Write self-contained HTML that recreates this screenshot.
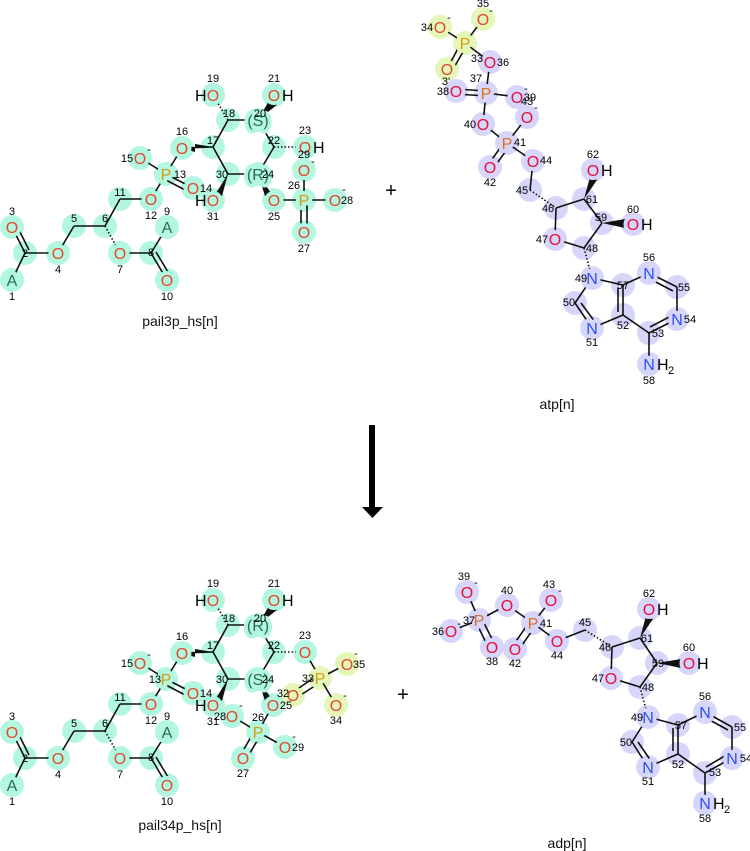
<!DOCTYPE html>
<html><head><meta charset="utf-8"><style>
html,body{margin:0;padding:0;background:#fff;}
svg{display:block;font-family:"Liberation Sans","DejaVu Sans",sans-serif;}
.t circle{fill:#b4f7e0}
.v circle{fill:#d6d6fa}
circle.y{fill:#e4f7b8}
line{stroke:#111;stroke-width:1.6}
.a{font-size:16px;text-anchor:middle}
.a text{paint-order:stroke;stroke-width:8px;stroke-linejoin:round}
.ta text{stroke:#b4f7e0}
.va text{stroke:#d6d6fa}
.ya text{stroke:#e4f7b8}
.O{fill:#e04a30}.Or{fill:#e8103c}.N{fill:#3050f0}.P{fill:#d89a10}.Po{fill:#e07020}.C{fill:#2a6a5a}
.n{font-size:11px;fill:#000;text-anchor:middle}
.h{font-size:16px;fill:#000}
.lbl{font-size:14px;fill:#111;text-anchor:middle}
</style></head><body>
<svg width="750" height="851" viewBox="0 0 750 851" xmlns="http://www.w3.org/2000/svg">

<!-- ============ TOP pail3p ============ -->
<g class="t">
<circle cx="12" cy="280" r="12"/><circle cx="25" cy="253" r="12"/><circle cx="12" cy="227" r="12"/><circle cx="58" cy="253" r="12"/><circle cx="74" cy="226" r="12"/><circle cx="105" cy="226" r="12"/><circle cx="120" cy="253" r="12"/><circle cx="151" cy="253" r="12"/><circle cx="167" cy="227" r="12"/><circle cx="167" cy="280" r="12"/><circle cx="120" cy="199" r="12"/><circle cx="151" cy="199" r="12"/><circle cx="166" cy="174" r="12"/><circle cx="193" cy="188" r="12"/><circle cx="140" cy="158" r="12"/><circle cx="182" cy="148" r="12"/><circle cx="213" cy="147" r="12"/><circle cx="228" cy="120" r="12"/><circle cx="213" cy="95" r="12"/><circle cx="258" cy="120" r="12"/><circle cx="274" cy="95" r="12"/><circle cx="274" cy="147" r="12"/><circle cx="305" cy="147" r="12"/><circle cx="258" cy="174" r="12"/><circle cx="274" cy="200" r="12"/><circle cx="304" cy="200" r="12"/><circle cx="304" cy="232" r="12"/><circle cx="335" cy="200" r="12"/><circle cx="304" cy="170" r="12"/><circle cx="228" cy="174" r="12"/><circle cx="213" cy="200" r="12"/>
</g>
<g>
<line x1="12" y1="280" x2="25" y2="253"/><line x1="12" y1="227" x2="25" y2="253"/><line x1="16" y1="224" x2="29" y2="250"/><line x1="25" y1="253" x2="58" y2="253"/><line x1="58" y1="253" x2="74" y2="226"/><line x1="74" y1="226" x2="105" y2="226"/><line x1="105" y1="226" x2="120" y2="199"/><line x1="120" y1="199" x2="151" y2="199"/><line x1="151" y1="199" x2="166" y2="174"/><line x1="120" y1="253" x2="151" y2="253"/><line x1="151" y1="253" x2="167" y2="227"/><line x1="151" y1="253" x2="167" y2="280"/><line x1="156" y1="252" x2="171" y2="277"/>
<line x1="105" y1="226" x2="120" y2="253" stroke-dasharray="1.5 2" stroke-width="5"/>
<line x1="166" y1="174" x2="140" y2="158"/><line x1="166" y1="174" x2="193" y2="188"/><line x1="164" y1="179" x2="191" y2="193"/><line x1="166" y1="174" x2="182" y2="148"/>
<polygon points="182,148 213,147 195,144 195,152" fill="#111"/><line x1="182" y1="148" x2="213" y2="147"/>
<line x1="213" y1="147" x2="228" y2="120"/><line x1="228" y1="120" x2="258" y2="120"/><line x1="258" y1="120" x2="274" y2="147"/><line x1="274" y1="147" x2="258" y2="174"/><line x1="258" y1="174" x2="228" y2="174"/><line x1="228" y1="174" x2="213" y2="147"/>
<line x1="228" y1="120" x2="213" y2="95" stroke-dasharray="1.5 2" stroke-width="5"/>
<polygon points="258,120 270,99 278,104" fill="#111"/>
<line x1="274" y1="147" x2="302" y2="147" stroke-dasharray="1.5 2" stroke-width="6"/>
<polygon points="258,174 271,193 265,196" fill="#111"/>
<polygon points="228,174 216,193 222,196" fill="#111"/>
<line x1="274" y1="200" x2="304" y2="200"/><line x1="304" y1="200" x2="335" y2="200"/><line x1="304" y1="200" x2="304" y2="170"/><line x1="301" y1="200" x2="301" y2="232"/><line x1="307" y1="200" x2="307" y2="232"/>
</g>
<g class="a ta">
<text x="12" y="286" class="C">A</text><text x="12" y="233" class="O">O</text><text x="58" y="259" class="O">O</text><text x="120" y="259" class="O">O</text><text x="167" y="233" class="C">A</text><text x="167" y="286" class="O">O</text><text x="151" y="205" class="O">O</text><text x="166" y="180" class="P">P</text><text x="193" y="194" class="O">O</text><text x="140" y="164" class="O">O</text><text x="182" y="154" class="O">O</text><text x="213" y="101" class="O">O</text><text x="258" y="126" class="C">(S)</text><text x="274" y="101" class="O">O</text><text x="305" y="153" class="O">O</text><text x="258" y="180" class="C">(R)</text><text x="274" y="206" class="O">O</text><text x="304" y="206" class="P">P</text><text x="304" y="238" class="O">O</text><text x="335" y="206" class="O">O</text><text x="304" y="176" class="O">O</text><text x="213" y="206" class="O">O</text>
</g>
<g class="h"><text x="195" y="101">H</text><text x="282" y="101">H</text><text x="313" y="153">H</text><text x="195" y="206">H</text></g>
<g class="n">
<text x="12" y="300">1</text><text x="25" y="257">2</text><text x="12" y="215">3</text><text x="58" y="273">4</text><text x="74" y="222">5</text><text x="105" y="222">6</text><text x="120" y="273">7</text><text x="151" y="256">8</text><text x="167" y="215">9</text><text x="167" y="300">10</text><text x="120" y="196">11</text><text x="151" y="219">12</text><text x="180" y="178">13</text><text x="206" y="192">14</text><text x="127" y="162">15</text><text x="182" y="135">16</text><text x="213" y="144">17</text><text x="229" y="117">18</text><text x="213" y="82">19</text><text x="260" y="117">20</text><text x="274" y="82">21</text><text x="274" y="144">22</text><text x="305" y="134">23</text><text x="268" y="178">24</text><text x="274" y="220">25</text><text x="294" y="189">26</text><text x="304" y="252">27</text><text x="347" y="204">28</text><text x="304" y="158">29</text><text x="222" y="178">30</text><text x="213" y="220">31</text>
<text x="149" y="153">-</text><text x="313" y="165">-</text><text x="344" y="193">-</text>
</g>
<text x="180" y="326" class="lbl">pail3p_hs[n]</text>

<!-- ============ TOP atp ============ -->
<circle class="y" cx="440" cy="27" r="12"/><circle class="y" cx="483" cy="19" r="12"/><circle class="y" cx="465" cy="43" r="12"/><circle class="y" cx="447" cy="69" r="12"/>
<g class="v">
<circle cx="490" cy="62" r="12"/><circle cx="486" cy="93" r="12"/><circle cx="456" cy="91" r="12"/><circle cx="517" cy="97" r="12"/><circle cx="527" cy="117" r="12"/><circle cx="483" cy="124" r="12"/><circle cx="507" cy="143" r="12"/><circle cx="490" cy="167" r="12"/><circle cx="533" cy="161" r="12"/><circle cx="530" cy="190" r="12"/><circle cx="556" cy="208" r="12"/><circle cx="555" cy="239" r="12"/><circle cx="584" cy="248" r="12"/><circle cx="602" cy="223" r="12"/><circle cx="633" cy="224" r="12"/><circle cx="584" cy="199" r="12"/><circle cx="593" cy="170" r="12"/><circle cx="592" cy="278" r="12"/><circle cx="575" cy="303" r="12"/><circle cx="592" cy="328" r="12"/><circle cx="623" cy="315" r="12"/><circle cx="623" cy="285" r="12"/><circle cx="649" cy="273" r="12"/><circle cx="677" cy="287" r="12"/><circle cx="677" cy="319" r="12"/><circle cx="649" cy="333" r="12"/><circle cx="649" cy="364" r="12"/>
</g>
<g>
<line x1="440" y1="27" x2="465" y2="43"/><line x1="483" y1="19" x2="465" y2="43"/><line x1="447" y1="69" x2="462" y2="41"/><line x1="452" y1="71" x2="467" y2="45"/><line x1="465" y1="43" x2="490" y2="62"/>
<line x1="490" y1="62" x2="486" y2="93"/><line x1="456" y1="89" x2="486" y2="91"/><line x1="456" y1="94" x2="486" y2="96"/><line x1="486" y1="93" x2="517" y2="97"/><line x1="486" y1="93" x2="483" y2="124"/><line x1="483" y1="124" x2="507" y2="143"/><line x1="507" y1="143" x2="527" y2="117"/><line x1="505" y1="141" x2="488" y2="165"/><line x1="510" y1="145" x2="493" y2="169"/><line x1="507" y1="143" x2="533" y2="161"/><line x1="533" y1="161" x2="530" y2="190"/>
<line x1="530" y1="190" x2="556" y2="208" stroke-dasharray="1.5 2" stroke-width="6"/>
<line x1="556" y1="208" x2="555" y2="239"/><line x1="555" y1="239" x2="584" y2="248"/><line x1="584" y1="248" x2="602" y2="223"/><line x1="602" y1="223" x2="584" y2="199"/><line x1="584" y1="199" x2="556" y2="208"/>
<polygon points="584,199 590,177 597,180" fill="#111"/><polygon points="602,223 625,219 625,228" fill="#111"/>
<line x1="584" y1="248" x2="592" y2="278" stroke-dasharray="1.5 2" stroke-width="6"/>
<line x1="592" y1="278" x2="575" y2="303"/><line x1="575" y1="303" x2="592" y2="328"/><line x1="581" y1="303" x2="595" y2="322"/><line x1="592" y1="328" x2="623" y2="315"/><line x1="623" y1="315" x2="623" y2="285"/><line x1="618" y1="312" x2="618" y2="288"/><line x1="623" y1="285" x2="592" y2="278"/><line x1="623" y1="285" x2="649" y2="273"/><line x1="649" y1="273" x2="677" y2="287"/><line x1="650" y1="279" x2="673" y2="291"/><line x1="677" y1="287" x2="677" y2="319"/><line x1="677" y1="319" x2="649" y2="333"/><line x1="673" y1="315" x2="650" y2="327"/><line x1="649" y1="333" x2="623" y2="315"/><line x1="649" y1="333" x2="649" y2="364"/>
</g>
<g class="a ya">
<text x="440" y="33" class="O">O</text><text x="483" y="25" class="O">O</text><text x="465" y="49" class="P">P</text><text x="447" y="75" class="O">O</text>
</g>
<g class="a va">
<text x="490" y="68" class="Or">O</text><text x="486" y="99" class="Po">P</text><text x="456" y="97" class="Or">O</text><text x="517" y="103" class="Or">O</text><text x="527" y="123" class="Or">O</text><text x="483" y="130" class="Or">O</text><text x="507" y="149" class="Po">P</text><text x="490" y="173" class="Or">O</text><text x="533" y="167" class="Or">O</text><text x="555" y="245" class="Or">O</text><text x="633" y="230" class="Or">O</text><text x="593" y="176" class="Or">O</text>
<text x="592" y="284" class="N">N</text><text x="592" y="334" class="N">N</text><text x="649" y="279" class="N">N</text><text x="677" y="325" class="N">N</text><text x="649" y="370" class="N">N</text>
</g>
<g class="h"><text x="601" y="176">H</text><text x="641" y="230">H</text><text x="657" y="370">H</text><text x="668" y="374" style="font-size:11px">2</text></g>
<g class="n">
<text x="427" y="31">34</text><text x="483" y="7">35</text><text x="477" y="62">33</text><text x="446" y="85">3'</text><text x="503" y="66">36</text><text x="476" y="82">37</text><text x="443" y="95">38</text><text x="530" y="101">39</text><text x="527" y="105">43</text><text x="470" y="128">40</text><text x="520" y="146">41</text><text x="490" y="186">42</text><text x="546" y="164">44</text><text x="522" y="194">45</text><text x="548" y="212">46</text><text x="542" y="243">47</text><text x="592" y="252">48</text><text x="601" y="221">59</text><text x="633" y="213">60</text><text x="592" y="203">61</text><text x="593" y="158">62</text><text x="581" y="282">49</text><text x="569" y="306">50</text><text x="592" y="346">51</text><text x="623" y="329">52</text><text x="658" y="337">53</text><text x="690" y="323">54</text><text x="684" y="291">55</text><text x="649" y="261">56</text><text x="623" y="289">57</text><text x="649" y="384">58</text>
<text x="449" y="21">-</text><text x="491" y="14">-</text><text x="526" y="92">-</text><text x="536" y="111">-</text>
</g>
<text x="557" y="409" class="lbl">atp[n]</text>

<text x="391" y="197" style="font-size:20px;text-anchor:middle">+</text>
<text x="403" y="701" style="font-size:20px;text-anchor:middle">+</text>

<!-- arrow -->
<rect x="369" y="425" width="6" height="84" fill="#000"/>
<polygon points="362,507 383,507 372.5,518" fill="#000"/>

<!-- ============ BOTTOM pail34p ============ -->
<g class="t">
<circle cx="12" cy="785" r="12"/><circle cx="25" cy="758" r="12"/><circle cx="12" cy="732" r="12"/><circle cx="58" cy="758" r="12"/><circle cx="74" cy="731" r="12"/><circle cx="105" cy="731" r="12"/><circle cx="120" cy="758" r="12"/><circle cx="151" cy="758" r="12"/><circle cx="167" cy="732" r="12"/><circle cx="167" cy="785" r="12"/><circle cx="120" cy="704" r="12"/><circle cx="151" cy="704" r="12"/><circle cx="166" cy="679" r="12"/><circle cx="193" cy="693" r="12"/><circle cx="140" cy="663" r="12"/><circle cx="182" cy="653" r="12"/><circle cx="213" cy="652" r="12"/><circle cx="228" cy="625" r="12"/><circle cx="213" cy="600" r="12"/><circle cx="258" cy="625" r="12"/><circle cx="274" cy="600" r="12"/><circle cx="274" cy="652" r="12"/><circle cx="305" cy="652" r="12"/><circle cx="258" cy="679" r="12"/><circle cx="273" cy="705" r="12"/><circle cx="258" cy="732" r="12"/><circle cx="243" cy="758" r="12"/><circle cx="232" cy="716" r="12"/><circle cx="285" cy="747" r="12"/><circle cx="228" cy="679" r="12"/><circle cx="213" cy="705" r="12"/>
</g>
<circle class="y" cx="293" cy="695" r="12"/><circle class="y" cx="320" cy="678" r="12"/><circle class="y" cx="336" cy="705" r="12"/><circle class="y" cx="347" cy="664" r="12"/>
<g>
<line x1="12" y1="785" x2="25" y2="758"/><line x1="12" y1="732" x2="25" y2="758"/><line x1="16" y1="729" x2="29" y2="755"/><line x1="25" y1="758" x2="58" y2="758"/><line x1="58" y1="758" x2="74" y2="731"/><line x1="74" y1="731" x2="105" y2="731"/><line x1="105" y1="731" x2="120" y2="704"/><line x1="120" y1="704" x2="151" y2="704"/><line x1="151" y1="704" x2="166" y2="679"/><line x1="120" y1="758" x2="151" y2="758"/><line x1="151" y1="758" x2="167" y2="732"/><line x1="151" y1="758" x2="167" y2="785"/><line x1="156" y1="757" x2="171" y2="782"/>
<line x1="105" y1="731" x2="120" y2="758" stroke-dasharray="1.5 2" stroke-width="5"/>
<line x1="166" y1="679" x2="140" y2="663"/><line x1="166" y1="679" x2="193" y2="693"/><line x1="164" y1="684" x2="191" y2="698"/><line x1="166" y1="679" x2="182" y2="653"/>
<polygon points="182,653 213,652 195,649 195,657" fill="#111"/><line x1="182" y1="653" x2="213" y2="652"/>
<line x1="213" y1="652" x2="228" y2="625"/><line x1="228" y1="625" x2="258" y2="625"/><line x1="258" y1="625" x2="274" y2="652"/><line x1="274" y1="652" x2="258" y2="679"/><line x1="258" y1="679" x2="228" y2="679"/><line x1="228" y1="679" x2="213" y2="652"/>
<line x1="228" y1="625" x2="213" y2="600" stroke-dasharray="1.5 2" stroke-width="5"/>
<polygon points="258,625 270,604 278,609" fill="#111"/>
<line x1="274" y1="652" x2="302" y2="652" stroke-dasharray="1.5 2" stroke-width="6"/>
<polygon points="258,679 271,698 265,701" fill="#111"/>
<polygon points="228,679 216,698 222,701" fill="#111"/>
<line x1="305" y1="652" x2="320" y2="678"/><line x1="320" y1="678" x2="347" y2="664"/><line x1="320" y1="678" x2="336" y2="705"/><line x1="293" y1="692" x2="318" y2="675"/><line x1="296" y1="698" x2="321" y2="682"/>
<line x1="273" y1="705" x2="258" y2="732"/><line x1="258" y1="732" x2="232" y2="716"/><line x1="258" y1="732" x2="285" y2="747"/><line x1="255" y1="730" x2="240" y2="756"/><line x1="261" y1="734" x2="246" y2="760"/>
</g>
<g class="a ta">
<text x="12" y="791" class="C">A</text><text x="12" y="738" class="O">O</text><text x="58" y="764" class="O">O</text><text x="120" y="764" class="O">O</text><text x="167" y="738" class="C">A</text><text x="167" y="791" class="O">O</text><text x="151" y="710" class="O">O</text><text x="166" y="685" class="P">P</text><text x="193" y="699" class="O">O</text><text x="140" y="669" class="O">O</text><text x="182" y="659" class="O">O</text><text x="213" y="606" class="O">O</text><text x="258" y="631" class="C">(R)</text><text x="274" y="606" class="O">O</text><text x="305" y="658" class="O">O</text><text x="258" y="685" class="C">(S)</text><text x="273" y="711" class="O">O</text><text x="258" y="738" class="P">P</text><text x="243" y="764" class="O">O</text><text x="232" y="722" class="O">O</text><text x="285" y="753" class="O">O</text><text x="213" y="711" class="O">O</text>
</g>
<g class="a ya">
<text x="293" y="701" class="O">O</text><text x="320" y="684" class="P">P</text><text x="336" y="711" class="O">O</text><text x="347" y="670" class="O">O</text>
</g>
<g class="h"><text x="195" y="606">H</text><text x="282" y="606">H</text><text x="195" y="711">H</text></g>
<g class="n">
<text x="12" y="805">1</text><text x="25" y="762">2</text><text x="12" y="720">3</text><text x="58" y="778">4</text><text x="74" y="727">5</text><text x="105" y="727">6</text><text x="120" y="778">7</text><text x="151" y="761">8</text><text x="167" y="720">9</text><text x="167" y="805">10</text><text x="120" y="701">11</text><text x="151" y="724">12</text><text x="155" y="683">13</text><text x="206" y="697">14</text><text x="127" y="667">15</text><text x="182" y="640">16</text><text x="213" y="649">17</text><text x="229" y="622">18</text><text x="213" y="587">19</text><text x="260" y="622">20</text><text x="274" y="587">21</text><text x="274" y="649">22</text><text x="305" y="639">23</text><text x="268" y="683">24</text><text x="286" y="709">25</text><text x="258" y="721">26</text><text x="243" y="777">27</text><text x="220" y="720">28</text><text x="298" y="751">29</text><text x="222" y="683">30</text><text x="213" y="725">31</text><text x="283" y="697">32</text><text x="308" y="682">33</text><text x="336" y="724">34</text><text x="359" y="668">35</text>
<text x="149" y="658">-</text><text x="241" y="709">-</text><text x="294" y="740">-</text><text x="345" y="699">-</text><text x="356" y="657">-</text>
</g>
<text x="180" y="830" class="lbl">pail34p_hs[n]</text>

<!-- ============ BOTTOM adp ============ -->
<g class="v">
<circle cx="467" cy="592" r="12"/><circle cx="479" cy="620" r="12"/><circle cx="451" cy="631" r="12"/><circle cx="492" cy="647" r="12"/><circle cx="507" cy="605" r="12"/><circle cx="533" cy="623" r="12"/><circle cx="551" cy="600" r="12"/><circle cx="515" cy="649" r="12"/><circle cx="557" cy="641" r="12"/><circle cx="585" cy="630" r="12"/><circle cx="612" cy="647" r="12"/><circle cx="640" cy="638" r="12"/><circle cx="649" cy="609" r="12"/><circle cx="657" cy="663" r="12"/><circle cx="689" cy="663" r="12"/><circle cx="611" cy="678" r="12"/><circle cx="640" cy="687" r="12"/><circle cx="648" cy="717" r="12"/><circle cx="632" cy="742" r="12"/><circle cx="648" cy="767" r="12"/><circle cx="678" cy="754" r="12"/><circle cx="678" cy="725" r="12"/><circle cx="705" cy="712" r="12"/><circle cx="732" cy="727" r="12"/><circle cx="732" cy="758" r="12"/><circle cx="705" cy="773" r="12"/><circle cx="705" cy="803" r="12"/>
</g>
<g>
<line x1="467" y1="592" x2="479" y2="620"/><line x1="451" y1="631" x2="479" y2="620"/><line x1="476" y1="622" x2="489" y2="649"/><line x1="482" y1="619" x2="495" y2="645"/><line x1="479" y1="620" x2="507" y2="605"/><line x1="507" y1="605" x2="533" y2="623"/><line x1="533" y1="623" x2="551" y2="600"/><line x1="530" y1="621" x2="512" y2="647"/><line x1="536" y1="625" x2="518" y2="651"/><line x1="533" y1="623" x2="557" y2="641"/><line x1="557" y1="641" x2="585" y2="630"/>
<line x1="585" y1="630" x2="612" y2="647" stroke-dasharray="1.5 2" stroke-width="6"/>
<line x1="612" y1="647" x2="611" y2="678"/><line x1="611" y1="678" x2="640" y2="687"/><line x1="640" y1="687" x2="657" y2="663"/><line x1="657" y1="663" x2="640" y2="638"/><line x1="640" y1="638" x2="612" y2="647"/>
<polygon points="640,638 646,616 653,619" fill="#111"/><polygon points="657,663 681,659 681,668" fill="#111"/>
<line x1="640" y1="687" x2="648" y2="717" stroke-dasharray="1.5 2" stroke-width="6"/>
<line x1="648" y1="717" x2="632" y2="742"/><line x1="632" y1="742" x2="648" y2="767"/><line x1="638" y1="742" x2="651" y2="761"/><line x1="648" y1="767" x2="678" y2="754"/><line x1="678" y1="754" x2="678" y2="725"/><line x1="673" y1="751" x2="673" y2="728"/><line x1="678" y1="725" x2="648" y2="717"/><line x1="678" y1="725" x2="705" y2="712"/><line x1="705" y1="712" x2="732" y2="727"/><line x1="706" y1="718" x2="728" y2="730"/><line x1="732" y1="727" x2="732" y2="758"/><line x1="732" y1="758" x2="705" y2="773"/><line x1="728" y1="754" x2="706" y2="767"/><line x1="705" y1="773" x2="678" y2="754"/><line x1="705" y1="773" x2="705" y2="803"/>
</g>
<g class="a va">
<text x="467" y="598" class="Or">O</text><text x="479" y="626" class="Po">P</text><text x="451" y="637" class="Or">O</text><text x="492" y="653" class="Or">O</text><text x="507" y="611" class="Or">O</text><text x="533" y="629" class="Po">P</text><text x="551" y="606" class="Or">O</text><text x="515" y="655" class="Or">O</text><text x="557" y="647" class="Or">O</text><text x="611" y="684" class="Or">O</text><text x="689" y="669" class="Or">O</text><text x="649" y="615" class="Or">O</text>
<text x="648" y="723" class="N">N</text><text x="648" y="773" class="N">N</text><text x="705" y="718" class="N">N</text><text x="732" y="764" class="N">N</text><text x="705" y="809" class="N">N</text>
</g>
<g class="h"><text x="657" y="615">H</text><text x="697" y="669">H</text><text x="713" y="809">H</text><text x="724" y="813" style="font-size:11px">2</text></g>
<g class="n">
<text x="464" y="580">39</text><text x="469" y="624">37</text><text x="438" y="635">36</text><text x="492" y="665">38</text><text x="507" y="594">40</text><text x="546" y="627">41</text><text x="549" y="588">43</text><text x="515" y="667">42</text><text x="557" y="659">44</text><text x="585" y="626">45</text><text x="605" y="651">46</text><text x="598" y="682">47</text><text x="648" y="691">48</text><text x="658" y="667">59</text><text x="689" y="651">60</text><text x="647" y="642">61</text><text x="649" y="597">62</text><text x="637" y="721">49</text><text x="626" y="746">50</text><text x="648" y="785">51</text><text x="678" y="768">52</text><text x="715" y="776">53</text><text x="746" y="762">54</text><text x="740" y="731">55</text><text x="705" y="700">56</text><text x="681" y="729">57</text><text x="705" y="822">58</text>
<text x="476" y="586">-</text><text x="459" y="627">-</text><text x="560" y="594">-</text>
</g>
<text x="567" y="848" class="lbl">adp[n]</text>
</svg>
</body></html>
